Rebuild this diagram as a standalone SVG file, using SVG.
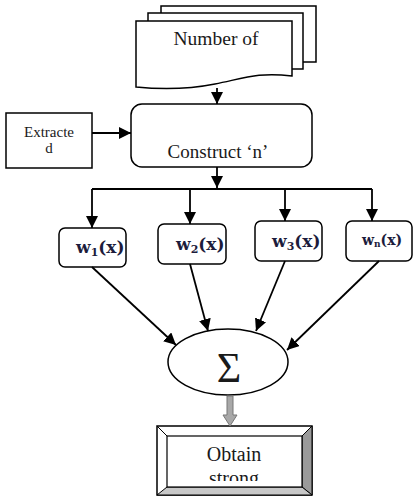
<svg xmlns="http://www.w3.org/2000/svg" width="417" height="497" viewBox="0 0 417 497">
<style>
.s{fill:#fff;stroke:#000;stroke-width:1.5}
.t{font-family:"Liberation Serif","Times New Roman",serif;fill:#1a1a1a}
.w{font-family:"DejaVu Serif","Liberation Serif",serif;font-weight:bold;fill:#1c1c3c}
.c{fill:none;stroke:#000;stroke-width:1.8}
</style>
<defs>
<marker id="ah" markerUnits="userSpaceOnUse" markerWidth="14" markerHeight="14" refX="12" refY="6" orient="auto">
<path d="M0,0 L12,6 L0,12 Z" fill="#000"/>
</marker>
<clipPath id="clipB"><rect x="167" y="436" width="135" height="45"/></clipPath>
</defs>
<rect width="417" height="497" fill="#fff"/>
<g id="documents">
<path class="s" d="M161,6 H316 V62 H161 Z"/>
<path class="s" d="M148,13 H303 V69 H148 Z"/>
<path class="s" d="M136,21 H292 V76 C258,72 245,78 215,84 C190,89 165,90 136,87 Z"/>
<text class="t" x="216" y="45" font-size="19.5" text-anchor="middle">Number of</text>
</g>
<g id="extracted">
<rect class="s" x="6" y="113" width="86" height="55"/>
<text class="t" x="49" y="137" font-size="15" text-anchor="middle">Extracte</text>
<text class="t" x="49" y="153" font-size="15" text-anchor="middle">d</text>
</g>
<g id="construct">
<rect class="s" x="131" y="104" width="181" height="63" rx="11"/>
<text class="t" x="218" y="158" font-size="19" text-anchor="middle">Construct ‘n’</text>
</g>
<g id="w1">
<rect class="s" x="59" y="228" width="67" height="39" rx="6"/>
<text class="w" x="76" y="253" font-size="17">w<tspan font-size="11" dy="3">1</tspan><tspan dy="-3">(x)</tspan></text>
</g>
<g id="w2">
<rect class="s" x="158" y="224" width="68" height="40" rx="6"/>
<text class="w" x="176" y="250" font-size="17">w<tspan font-size="11" dy="3">2</tspan><tspan dy="-3">(x)</tspan></text>
</g>
<g id="w3">
<rect class="s" x="255" y="221" width="67" height="40" rx="6"/>
<text class="w" x="272" y="247" font-size="17">w<tspan font-size="11" dy="3">3</tspan><tspan dy="-3">(x)</tspan></text>
</g>
<g id="wn">
<rect class="s" x="346" y="221" width="66" height="40" rx="6"/>
<text class="w" x="362" y="245" font-size="14" font-weight="normal">w<tspan font-size="9" dy="2">n</tspan><tspan dy="-2">(x)</tspan></text>
</g>
<g id="sum">
<ellipse class="s" cx="228" cy="362" rx="60" ry="33"/>
<text class="t" x="229" y="382" font-size="42" text-anchor="middle">Σ</text>
</g>
<g id="obtain">
<rect x="157" y="426" width="155" height="69" fill="#fff" stroke="#000" stroke-width="1.5"/>
<path d="M302,436 L312,426 L312,495 L302,487 Z" fill="#9a9a9a" stroke="#000" stroke-width="1"/>
<path d="M167,487 L302,487 L312,495 L157,495 Z" fill="#c8c8c8" stroke="#000" stroke-width="1"/>
<path d="M157,426 L167,436 M312,426 L302,436" stroke="#000" stroke-width="1"/>
<rect x="167" y="436" width="135" height="51" fill="#fff" stroke="#000" stroke-width="1.2"/>
<text class="t" x="234" y="461" font-size="20" text-anchor="middle">Obtain</text>
<text class="t" x="234" y="485" font-size="20" text-anchor="middle" clip-path="url(#clipB)">strong</text>
</g>
<g id="connectors">
<line class="c" x1="217" y1="88" x2="217" y2="104" marker-end="url(#ah)"/>
<line class="c" x1="92" y1="133" x2="131" y2="133" marker-end="url(#ah)"/>
<line class="c" x1="217" y1="167" x2="217" y2="188" marker-end="url(#ah)"/>
<polyline class="c" points="92,189 372,189"/>
<line class="c" x1="92" y1="189" x2="92" y2="228" marker-end="url(#ah)"/>
<line class="c" x1="190" y1="189" x2="190" y2="224" marker-end="url(#ah)"/>
<line class="c" x1="285" y1="189" x2="285" y2="221" marker-end="url(#ah)"/>
<line class="c" x1="372" y1="189" x2="372" y2="221" marker-end="url(#ah)"/>
<line class="c" x1="92" y1="267" x2="176" y2="345" marker-end="url(#ah)"/>
<line class="c" x1="190" y1="264" x2="208" y2="331" marker-end="url(#ah)"/>
<line class="c" x1="285" y1="261" x2="256" y2="331" marker-end="url(#ah)"/>
<line class="c" x1="379" y1="261" x2="287" y2="350" marker-end="url(#ah)"/>
<path d="M227,396 H233 V415 H237 L230,426 L223,415 H227 Z" fill="#a8a8a8" stroke="#777" stroke-width="1"/>
</g>
</svg>
